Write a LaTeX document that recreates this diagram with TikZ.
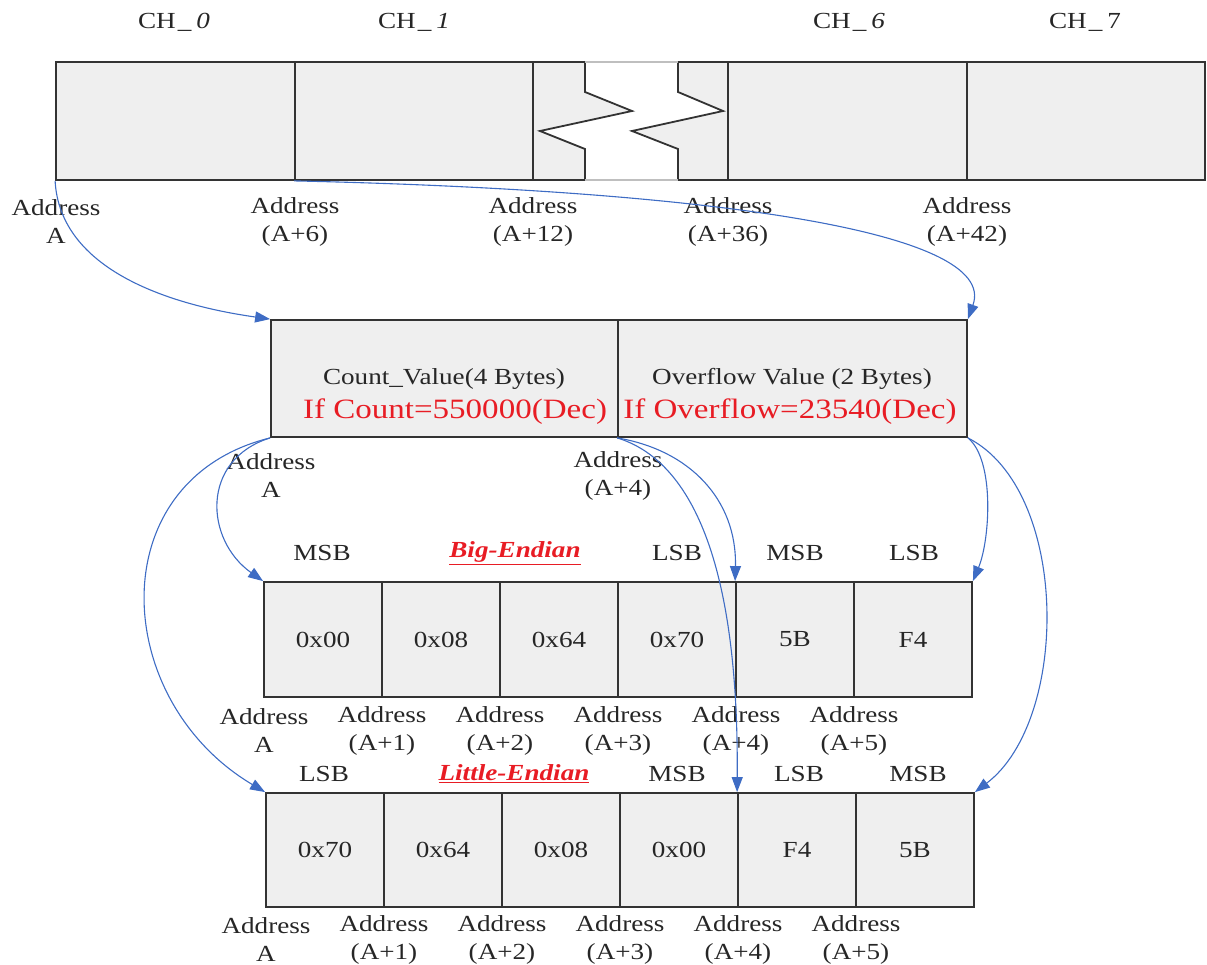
\documentclass[tikz,border=0pt]{standalone}
\usepackage{fontspec}
\setmainfont{Liberation Serif}[FakeStretch=1.18]
\usepackage{tikz}
\usetikzlibrary{arrows.meta}
\definecolor{cellgray}{RGB}{239,239,239}
\definecolor{linkblue}{RGB}{62,108,196}
\definecolor{valred}{RGB}{232,28,36}
\begin{document}
\begin{tikzpicture}
[x=1pt,y=-1pt,
 every node/.style={inner sep=0pt,text=black!85},
 cell/.style={draw=black!80,line width=1.8pt,font=\fontsize{23}{26}\selectfont},
 addr/.style={align=center,font=\fontsize{23}{28}\selectfont},
 txt/.style={font=\fontsize{23}{26}\selectfont},
 redtxt/.style={font=\fontsize{28}{30}\selectfont,text=valred},
 endian/.style={font=\fontsize{23}{26}\selectfont\bfseries\itshape,text=valred},
 link/.style={draw=linkblue,line width=1.1pt,-{Triangle[length=15pt,width=11pt]}}]
\useasboundingbox (0,0) rectangle (1207,965);
% backgrounds of the rows
\fill[cellgray] (56,62) rectangle (1205,180);
\fill[cellgray] (271,320) rectangle (967,437);
\fill[cellgray] (264,582) rectangle (972,697);
\fill[cellgray] (266,793) rectangle (974,907);
% channel break
\fill[white] (585,62) -- (585,92) -- (632,111) -- (540,131) -- (585,149) -- (585,180) -- (678,180) -- (678,149) -- (632,131) -- (723,111) -- (678,92) -- (678,62) -- cycle;
\draw[black!80,line width=1.8pt] (533,62) -- (585,62) -- (585,92) -- (632,111) -- (540,131) -- (585,149) -- (585,180) -- (533,180);
\draw[black!80,line width=1.8pt] (728,62) -- (678,62) -- (678,92) -- (723,111) -- (632,131) -- (678,149) -- (678,180) -- (728,180);
\draw[black!25,line width=1.2pt] (585,62) -- (678,62) (585,180) -- (678,180);
% channels
\node[cell,minimum width=239pt,minimum height=118pt] (ch0) at (175.5,121) {};
\node[cell,minimum width=238pt,minimum height=118pt] (ch1) at (414,121) {};
\node[cell,minimum width=239pt,minimum height=118pt] (ch6) at (847.5,121) {};
\node[cell,minimum width=238pt,minimum height=118pt] (ch7) at (1086,121) {};
\node[txt] (t0) at (174,22) {CH\kern2pt\_\kern5pt\textit{0}};
\node[txt] (t1) at (414,22) {CH\kern2pt\_\kern5pt\textit{1}};
\node[txt] (t6) at (849,22) {CH\kern2pt\_\kern5pt\textit{6}};
\node[txt] (t7) at (1085,22) {CH\kern2pt\_\kern5pt 7};
\node[addr] (ca0) at (56,222) {Address\\A};
\node[addr] (ca6) at (295,222) {Address\\(A+6)};
\node[addr] (ca12) at (533,222) {Address\\(A+12)};
\node[addr] (ca36) at (728,222) {Address\\(A+36)};
\node[addr] (ca42) at (967,222) {Address\\(A+42)};
% one channel
\node[cell,minimum width=347pt,minimum height=117pt] (cnt) at (444.5,378.5) {};
\node[cell,minimum width=349pt,minimum height=117pt] (ovf) at (792.5,378.5) {};
\node[txt] (cntname) at (444,379) {Count\_Value(4 Bytes)};
\node[redtxt] (cntval) at (455,412) {If Count=550000(Dec)};
\node[txt] (ovfname) at (792,379) {Overflow Value (2 Bytes)};
\node[redtxt] (ovfval) at (790,412) {If Overflow=23540(Dec)};
\node[addr] (ma0) at (271,476) {Address\\A};
\node[addr] (ma4) at (618,476) {Address\\(A+4)};
% big-endian
\foreach \v [count=\i from 0] in {0x00,0x08,0x64,0x70,5B,F4}
  \node[cell,minimum width=118pt,minimum height=115pt] (big\i) at (323+118*\i,639.5) {\v};
\foreach \a [count=\i from 0] in {A,(A+1),(A+2),(A+3),(A+4),(A+5)}
  \node[addr] (ba\i) at (264+118*\i,731) {Address\\\a};
\node[txt] (bp0) at (322,553) {MSB};
\node[endian] (bigend) at (515,553) {\underline{Big-Endian}};
\node[txt] (bp3) at (677,553) {LSB};
\node[txt] (bp4) at (795,553) {MSB};
\node[txt] (bp5) at (914,553) {LSB};
% little-endian
\foreach \v [count=\i from 0] in {0x70,0x64,0x08,0x00,F4,5B}
  \node[cell,minimum width=118pt,minimum height=114pt] (lit\i) at (325+118*\i,850) {\v};
\foreach \a [count=\i from 0] in {A,(A+1),(A+2),(A+3),(A+4),(A+5)}
  \node[addr] (la\i) at (266+118*\i,940) {Address\\\a};
\node[txt] (lp0) at (324,774) {LSB};
\node[endian] (litend) at (514,774) {\underline{Little-Endian}};
\node[txt] (lp3) at (677,774) {MSB};
\node[txt] (lp4) at (799,774) {LSB};
\node[txt] (lp5) at (918,774) {MSB};
% links
\draw[link] (ch0.south west) .. controls (60,270) and (170,305) .. (cnt.north west);
\draw[link] (ch1.south west) .. controls (700,190) and (1000,230) .. (ovf.north east);
\draw[link] (cnt.south west) .. controls (200,460) and (205,540) .. (big0.north west);
\draw[link] (cnt.south west) .. controls (100,480) and (110,700) .. (lit0.north west);
\draw[link] (ovf.south west) .. controls (690,450) and (737,500) .. (big4.north west);
\draw[link] (ovf.south west) .. controls (690,460) and (739,560) .. (lit4.north west);
\draw[link] (ovf.south east) .. controls (995,460) and (990,540) .. (big5.north east);
\draw[link] (ovf.south east) .. controls (1070,490) and (1070,720) .. (lit5.north east);
\end{tikzpicture}
\end{document}
